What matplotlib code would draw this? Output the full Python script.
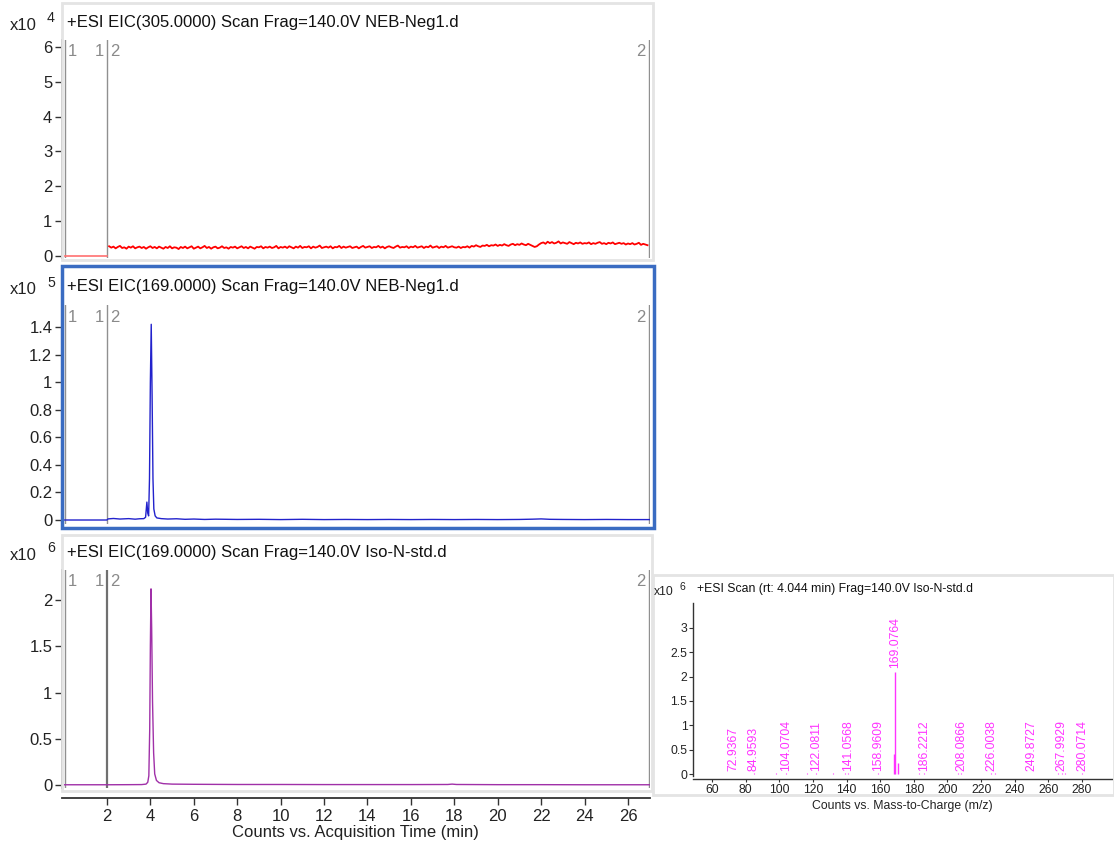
import matplotlib
matplotlib.use("Agg")
import matplotlib.pyplot as plt
from matplotlib.patches import Rectangle
from matplotlib.ticker import FuncFormatter, MultipleLocator
from matplotlib.transforms import blended_transform_factory

plt.rcParams["font.family"] = ["Liberation Sans", "DejaVu Sans"]

W, H = 1114, 842

# ---- data ----
# top: EIC 305 (x10^4), segment 1 flat, segment 2 noisy baseline
seg1_t = [0.05, 2.0]
seg1_v = [0.0, 0.0]
red_t = [2.1 + 0.1 * i for i in range(249)]
red_v = [
    0.28, 0.24, 0.27, 0.22, 0.26, 0.29, 0.23, 0.25, 0.21, 0.27, 0.24, 0.28, 0.22, 0.25, 0.27, 0.23, 0.26, 0.21, 0.25, 0.28,
    0.23, 0.26, 0.22, 0.27, 0.24, 0.21, 0.26, 0.23, 0.28, 0.22, 0.25, 0.24, 0.20, 0.26, 0.23, 0.27, 0.22, 0.25, 0.28, 0.21,
    0.24, 0.27, 0.22, 0.25, 0.29, 0.23, 0.26, 0.21, 0.25, 0.27, 0.22, 0.24, 0.28, 0.23, 0.25, 0.21, 0.26, 0.24, 0.27, 0.22,
    0.25, 0.28, 0.23, 0.26, 0.22, 0.27, 0.24, 0.21, 0.26, 0.25, 0.28, 0.22, 0.26, 0.24, 0.27, 0.23, 0.25, 0.29, 0.22, 0.26,
    0.24, 0.27, 0.23, 0.28, 0.25, 0.22, 0.27, 0.24, 0.29, 0.23, 0.26, 0.25, 0.28, 0.22, 0.27, 0.24, 0.26, 0.30, 0.23, 0.25,
    0.27, 0.24, 0.28, 0.22, 0.26, 0.25, 0.29, 0.23, 0.27, 0.24, 0.26, 0.28, 0.23, 0.25, 0.27, 0.22, 0.26, 0.29, 0.24, 0.26,
    0.28, 0.23, 0.26, 0.25, 0.29, 0.24, 0.27, 0.22, 0.26, 0.28, 0.25, 0.23, 0.27, 0.30, 0.24, 0.26, 0.25, 0.28, 0.23, 0.27,
    0.25, 0.29, 0.24, 0.26, 0.28, 0.23, 0.27, 0.25, 0.30, 0.24, 0.26, 0.28, 0.23, 0.27, 0.25, 0.29, 0.24, 0.26, 0.28, 0.25,
    0.24, 0.27, 0.23, 0.26, 0.25, 0.28, 0.24, 0.29, 0.27, 0.31, 0.28, 0.26, 0.30, 0.29, 0.32, 0.28, 0.31, 0.30, 0.33, 0.29,
    0.32, 0.30, 0.34, 0.31, 0.29, 0.33, 0.35, 0.31, 0.34, 0.32, 0.36, 0.33, 0.31, 0.35, 0.32, 0.29, 0.26, 0.28, 0.33, 0.37,
    0.39, 0.35, 0.41, 0.37, 0.40, 0.36, 0.38, 0.42, 0.36, 0.39, 0.37, 0.35, 0.40, 0.37, 0.34, 0.38, 0.36, 0.39, 0.35, 0.37,
    0.36, 0.39, 0.34, 0.37, 0.35, 0.38, 0.40, 0.35, 0.37, 0.34, 0.38, 0.36, 0.39, 0.34, 0.36, 0.38, 0.35, 0.37, 0.33, 0.36,
    0.34, 0.37, 0.33, 0.35, 0.38, 0.32, 0.35, 0.33, 0.31,
]

# middle: EIC 169 NEB-Neg1 (x10^5)
blue_t = [0.05, 2.0, 2.05, 2.3, 2.6, 3.0, 3.3, 3.5, 3.7, 3.78, 3.84, 3.88, 3.92, 3.96, 4.0, 4.04, 4.08, 4.12, 4.16, 4.22,
          4.3, 4.5, 4.8, 5.2, 5.6, 6.0, 6.5, 7.0, 8.0, 9.0, 10.0, 11.0, 12.0, 13.0, 14.0, 15.0, 16.0, 17.0, 18.0, 19.0,
          20.0, 21.0, 21.6, 22.0, 22.4, 23.0, 24.0, 25.0, 26.0, 27.0]
blue_v = [0.0, 0.0, 0.008, 0.011, 0.007, 0.010, 0.006, 0.009, 0.010, 0.02, 0.13, 0.05, 0.03, 0.30, 1.0, 1.42, 0.9, 0.30,
          0.08, 0.03, 0.015, 0.010, 0.007, 0.009, 0.005, 0.007, 0.004, 0.006, 0.004, 0.005, 0.003, 0.005, 0.003, 0.004,
          0.003, 0.004, 0.003, 0.004, 0.003, 0.004, 0.003, 0.004, 0.006, 0.008, 0.005, 0.004, 0.003, 0.004, 0.003, 0.003]

# bottom: EIC 169 Iso-N-std (x10^6)
purple_t = [0.05, 2.0, 3.0, 3.6, 3.8, 3.88, 3.93, 3.97, 4.0, 4.03, 4.06, 4.1, 4.15, 4.2, 4.28, 4.4, 4.6, 5.0, 6.0,
            8.0, 10.0, 12.0, 14.0, 16.0, 17.7, 17.9, 18.1, 20.0, 22.0, 24.0, 26.0, 27.0]
purple_v = [0.003, 0.003, 0.004, 0.005, 0.010, 0.03, 0.10, 0.60, 1.50, 2.12, 1.70, 0.90, 0.35, 0.12, 0.05, 0.025, 0.015, 0.010, 0.008,
            0.006, 0.006, 0.005, 0.005, 0.005, 0.006, 0.010, 0.006, 0.004, 0.004, 0.003, 0.003, 0.003]

# mass spectrum (x10^6)
main_mz = [168.0, 169.0764, 170.4]
main_int = [0.41, 2.10, 0.23]
label_mz = [72.9367, 84.9593, 104.0704, 122.0811, 141.0568, 158.9609, 186.2212,
            208.0866, 226.0038, 249.8727, 267.9929, 280.0714]
label_int = [0.01, 0.02, 0.02, 0.03, 0.02, 0.02, 0.02, 0.02, 0.02, 0.01, 0.02, 0.02]
minor_mz = [82.0, 98.0, 100.5, 114.0, 116.5, 118.0, 124.5, 128.0, 132.0, 136.0, 139.0, 156.0, 183.0,
            199.0, 203.0, 206.0, 215.0, 219.0, 223.0, 228.0, 241.0, 253.0, 259.0, 263.0, 265.5, 270.0, 278.0, 292.0]
minor_int = [0.01, 0.015, 0.01, 0.01, 0.015, 0.01, 0.01, 0.01, 0.015, 0.01, 0.02, 0.01, 0.02,
             0.01, 0.01, 0.015, 0.01, 0.01, 0.01, 0.02, 0.01, 0.01, 0.01, 0.01, 0.015, 0.02, 0.01, 0.01]

time_ticks = list(range(2, 27, 2))
mz_ticks = list(range(60, 281, 20))
ms_yticks = [0, 0.5, 1, 1.5, 2, 2.5, 3]

FS = 12      # chromatogram text
FS_MS = 8.8  # spectrum text


def fx(px):
    return px / W


def fy(py):
    return 1 - py / H


def add_axes(l, t, r, b):
    return fig.add_axes([fx(l), fy(b), fx(r) - fx(l), fy(t) - fy(b)])


def frame(l, t, r, b, color, lw):
    fig.patches.append(Rectangle((fx(l), fy(b)), fx(r) - fx(l), fy(t) - fy(b),
                                 transform=fig.transFigure, fill=False,
                                 edgecolor=color, linewidth=lw, zorder=0))


def x10(x, y, exp, size, dx):
    fig.text(fx(x), fy(y), "x10", fontsize=size, color="#222222", va="center", ha="left")
    fig.text(fx(x + dx), fy(y - size * 0.6), exp, fontsize=size * 0.85,
             color="#222222", va="center", ha="left")


def style_chrom(ax, ylim, ystep, show_x=False):
    ax.set_xlim(-0.07, 27.0)
    ax.set_ylim(*ylim)
    ax.patch.set_alpha(0)
    for s in ["top", "right"]:
        ax.spines[s].set_visible(False)
    ax.spines["left"].set_color("#333333")
    ax.spines["left"].set_linewidth(1.3)
    ax.yaxis.set_major_locator(MultipleLocator(ystep))
    ax.yaxis.set_major_formatter(FuncFormatter(lambda v, p: "%g" % round(v, 3)))
    ax.tick_params(axis="y", direction="out", length=5, width=1, colors="#333333",
                   labelsize=FS, labelcolor="#222222", pad=2)
    if show_x:
        ax.spines["bottom"].set_position(("outward", 7))
        ax.spines["bottom"].set_color("#333333")
        ax.spines["bottom"].set_linewidth(1.3)
        ax.set_xticks(time_ticks)
        ax.tick_params(axis="x", direction="out", length=5, width=1, colors="#333333",
                       labelsize=FS, labelcolor="#222222", pad=3)
        ax.set_xlabel("Counts vs. Acquisition Time (min)", fontsize=FS, color="#222222", labelpad=1)
    else:
        ax.spines["bottom"].set_visible(False)
        ax.set_xticks([])
    # segment markers
    for xv in [0.05, 2.0, 26.95]:
        ax.axvline(xv, color="#909090", lw=1.0, zorder=1)
    tr = blended_transform_factory(ax.transData, ax.transAxes)
    kw = dict(transform=tr, fontsize=FS, color="#8a8a8a", va="center")
    ax.text(0.2, 0.945, "1", ha="left", **kw)
    ax.text(1.85, 0.945, "1", ha="right", **kw)
    ax.text(2.15, 0.945, "2", ha="left", **kw)
    ax.text(26.8, 0.945, "2", ha="right", **kw)


fig = plt.figure(figsize=(W / 100, H / 100), dpi=100)

# panel frames
frame(62, 3, 653, 260, "#e4e4e4", 2)
frame(62, 266, 654, 528, "#3a6cc2", 2.5)
frame(62, 535, 652, 791, "#e4e4e4", 2)
frame(653, 575, 1114, 795, "#e4e4e4", 2)

# headers
fig.text(fx(67), fy(22), "+ESI EIC(305.0000) Scan Frag=140.0V NEB-Neg1.d", fontsize=FS, color="#111111", va="center")
fig.text(fx(67), fy(287), "+ESI EIC(169.0000) Scan Frag=140.0V NEB-Neg1.d", fontsize=FS, color="#111111", va="center")
fig.text(fx(67), fy(553), "+ESI EIC(169.0000) Scan Frag=140.0V Iso-N-std.d", fontsize=FS, color="#111111", va="center")
fig.text(fx(697), fy(589), "+ESI Scan (rt: 4.044 min) Frag=140.0V Iso-N-std.d", fontsize=FS_MS, color="#111111", va="center")

x10(10, 25, "4", FS, 37)
x10(10, 290, "5", FS, 37)
x10(10, 555, "6", FS, 37)
x10(654, 592, "6", FS_MS, 25)

# top panel
ax1 = add_axes(62, 40, 649.7, 258)
style_chrom(ax1, (-0.057, 6.2), 1)
ax1.plot(seg1_t, seg1_v, color="#ff7070", lw=1.2, zorder=3)
ax1.plot(red_t, red_v, color="#ff0000", lw=1.3, zorder=3)

# middle panel
ax2 = add_axes(62, 305, 649.7, 524)
style_chrom(ax2, (-0.029, 1.56), 0.2)
ax2.plot(blue_t, blue_v, color="#2222cc", lw=1.0, zorder=3)

# bottom panel
ax3 = add_axes(62, 570, 649.7, 788)
style_chrom(ax3, (-0.032, 2.324), 0.5, show_x=True)
ax3.lines[1].set_color("#707070")
ax3.lines[1].set_linewidth(1.6)
ax3.plot(purple_t, purple_v, color="#a030a8", lw=1.0, zorder=3)

# mass spectrum
ax4 = add_axes(693, 603, 1112, 776)
ax4.set_xlim(48.7, 297.8)
ax4.set_ylim(-0.041, 3.513)
ax4.patch.set_alpha(0)
for s in ["top", "right"]:
    ax4.spines[s].set_visible(False)
for s in ["left", "bottom"]:
    ax4.spines[s].set_color("#333333")
    ax4.spines[s].set_linewidth(1.0)
ax4.spines["bottom"].set_position(("outward", 2))
ax4.set_xticks(mz_ticks)
ax4.set_yticks(ms_yticks)
ax4.yaxis.set_major_formatter(FuncFormatter(lambda v, p: "%g" % v))
ax4.tick_params(direction="out", length=3, width=0.8, colors="#333333", labelsize=FS_MS,
                labelcolor="#222222", pad=1)
ax4.tick_params(axis="x", length=2, pad=2)
ax4.set_xlabel("Counts vs. Mass-to-Charge (m/z)", fontsize=FS_MS, color="#222222", labelpad=2.5)

mag = "#ff33ff"
ax4.vlines(minor_mz, 0, minor_int, color=mag, lw=0.8)
ax4.vlines(label_mz, 0, label_int, color=mag, lw=0.8)
ax4.vlines(main_mz, 0, main_int, color=mag, lw=1.0)
for m in label_mz:
    ax4.text(m, 0.07, "%.4f" % m, rotation=90, ha="center", va="bottom", fontsize=FS_MS, color=mag)
ax4.text(main_mz[1], main_int[1] + 0.08, "%.4f" % main_mz[1], rotation=90, ha="center",
         va="bottom", fontsize=FS_MS, color=mag)

fig.savefig("out.png", dpi=100)
